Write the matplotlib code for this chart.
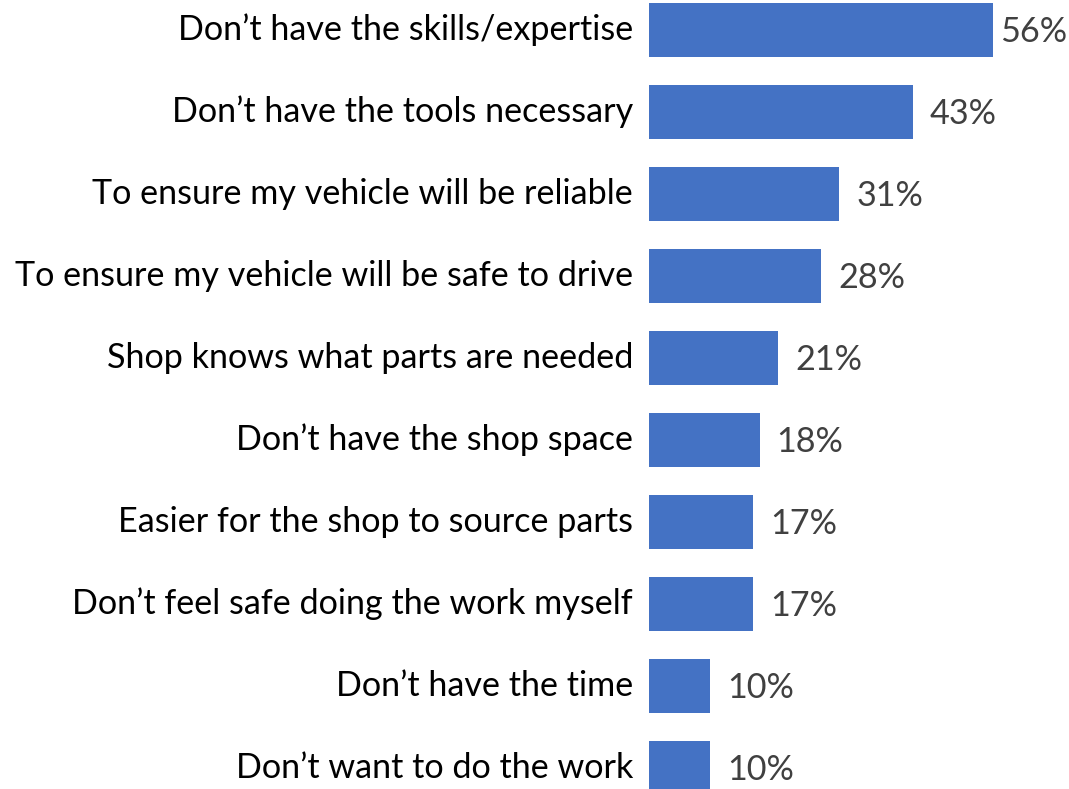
import matplotlib
matplotlib.use("Agg")
import matplotlib.pyplot as plt
import matplotlib.transforms as mtransforms

# Reasons for using a shop instead of doing the work yourself
reasons = [
    "Don\u2019t have the skills/expertise",
    "Don\u2019t have the tools necessary",
    "To ensure my vehicle will be reliable",
    "To ensure my vehicle will be safe to drive",
    "Shop knows what parts are needed",
    "Don\u2019t have the shop space",
    "Easier for the shop to source parts",
    "Don\u2019t feel safe doing the work myself",
    "Don\u2019t have the time",
    "Don\u2019t want to do the work",
]
pct = [56, 43, 31, 28, 21, 18, 17, 17, 10, 10]

plt.rcParams['font.family'] = ['Lato', 'DejaVu Sans']

W, H = 1069, 789
left = 649
fig = plt.figure(figsize=(W / 100, H / 100), dpi=100)
ax = fig.add_axes([left / W, 0, 1 - left / W, 1])

ypos = list(range(len(reasons)))
ax.barh(ypos, pct, height=0.66, color='#4472C4')

px_per_unit = 6.14
xmax = (W - left) / px_per_unit
ax.set_xlim(0, xmax)
row = 82.0
ax.set_ylim((H - 30) / row, -30 / row)

# value labels sit just past the bar, but stay inside the figure
gap = 17 / px_per_unit
last_x = (1000 - left) / px_per_unit
for y, v in zip(ypos, pct):
    ax.text(min(v + gap, last_x), y + 0.02, f"{v}%", va='center', ha='left',
            fontsize=24.6, color='#404040')

ax.set_yticks(ypos)
ax.set_yticklabels(reasons, fontsize=24.6, color='black')
ax.tick_params(axis='y', length=0, pad=11.5)
# nudge the category labels up a little
lift = mtransforms.ScaledTranslation(0, 3 / 100, fig.dpi_scale_trans)
for lbl in ax.get_yticklabels():
    lbl.set_transform(lbl.get_transform() + lift)
ax.set_xticks([])
for s in ax.spines.values():
    s.set_visible(False)

fig.savefig("out.png", dpi=100)
